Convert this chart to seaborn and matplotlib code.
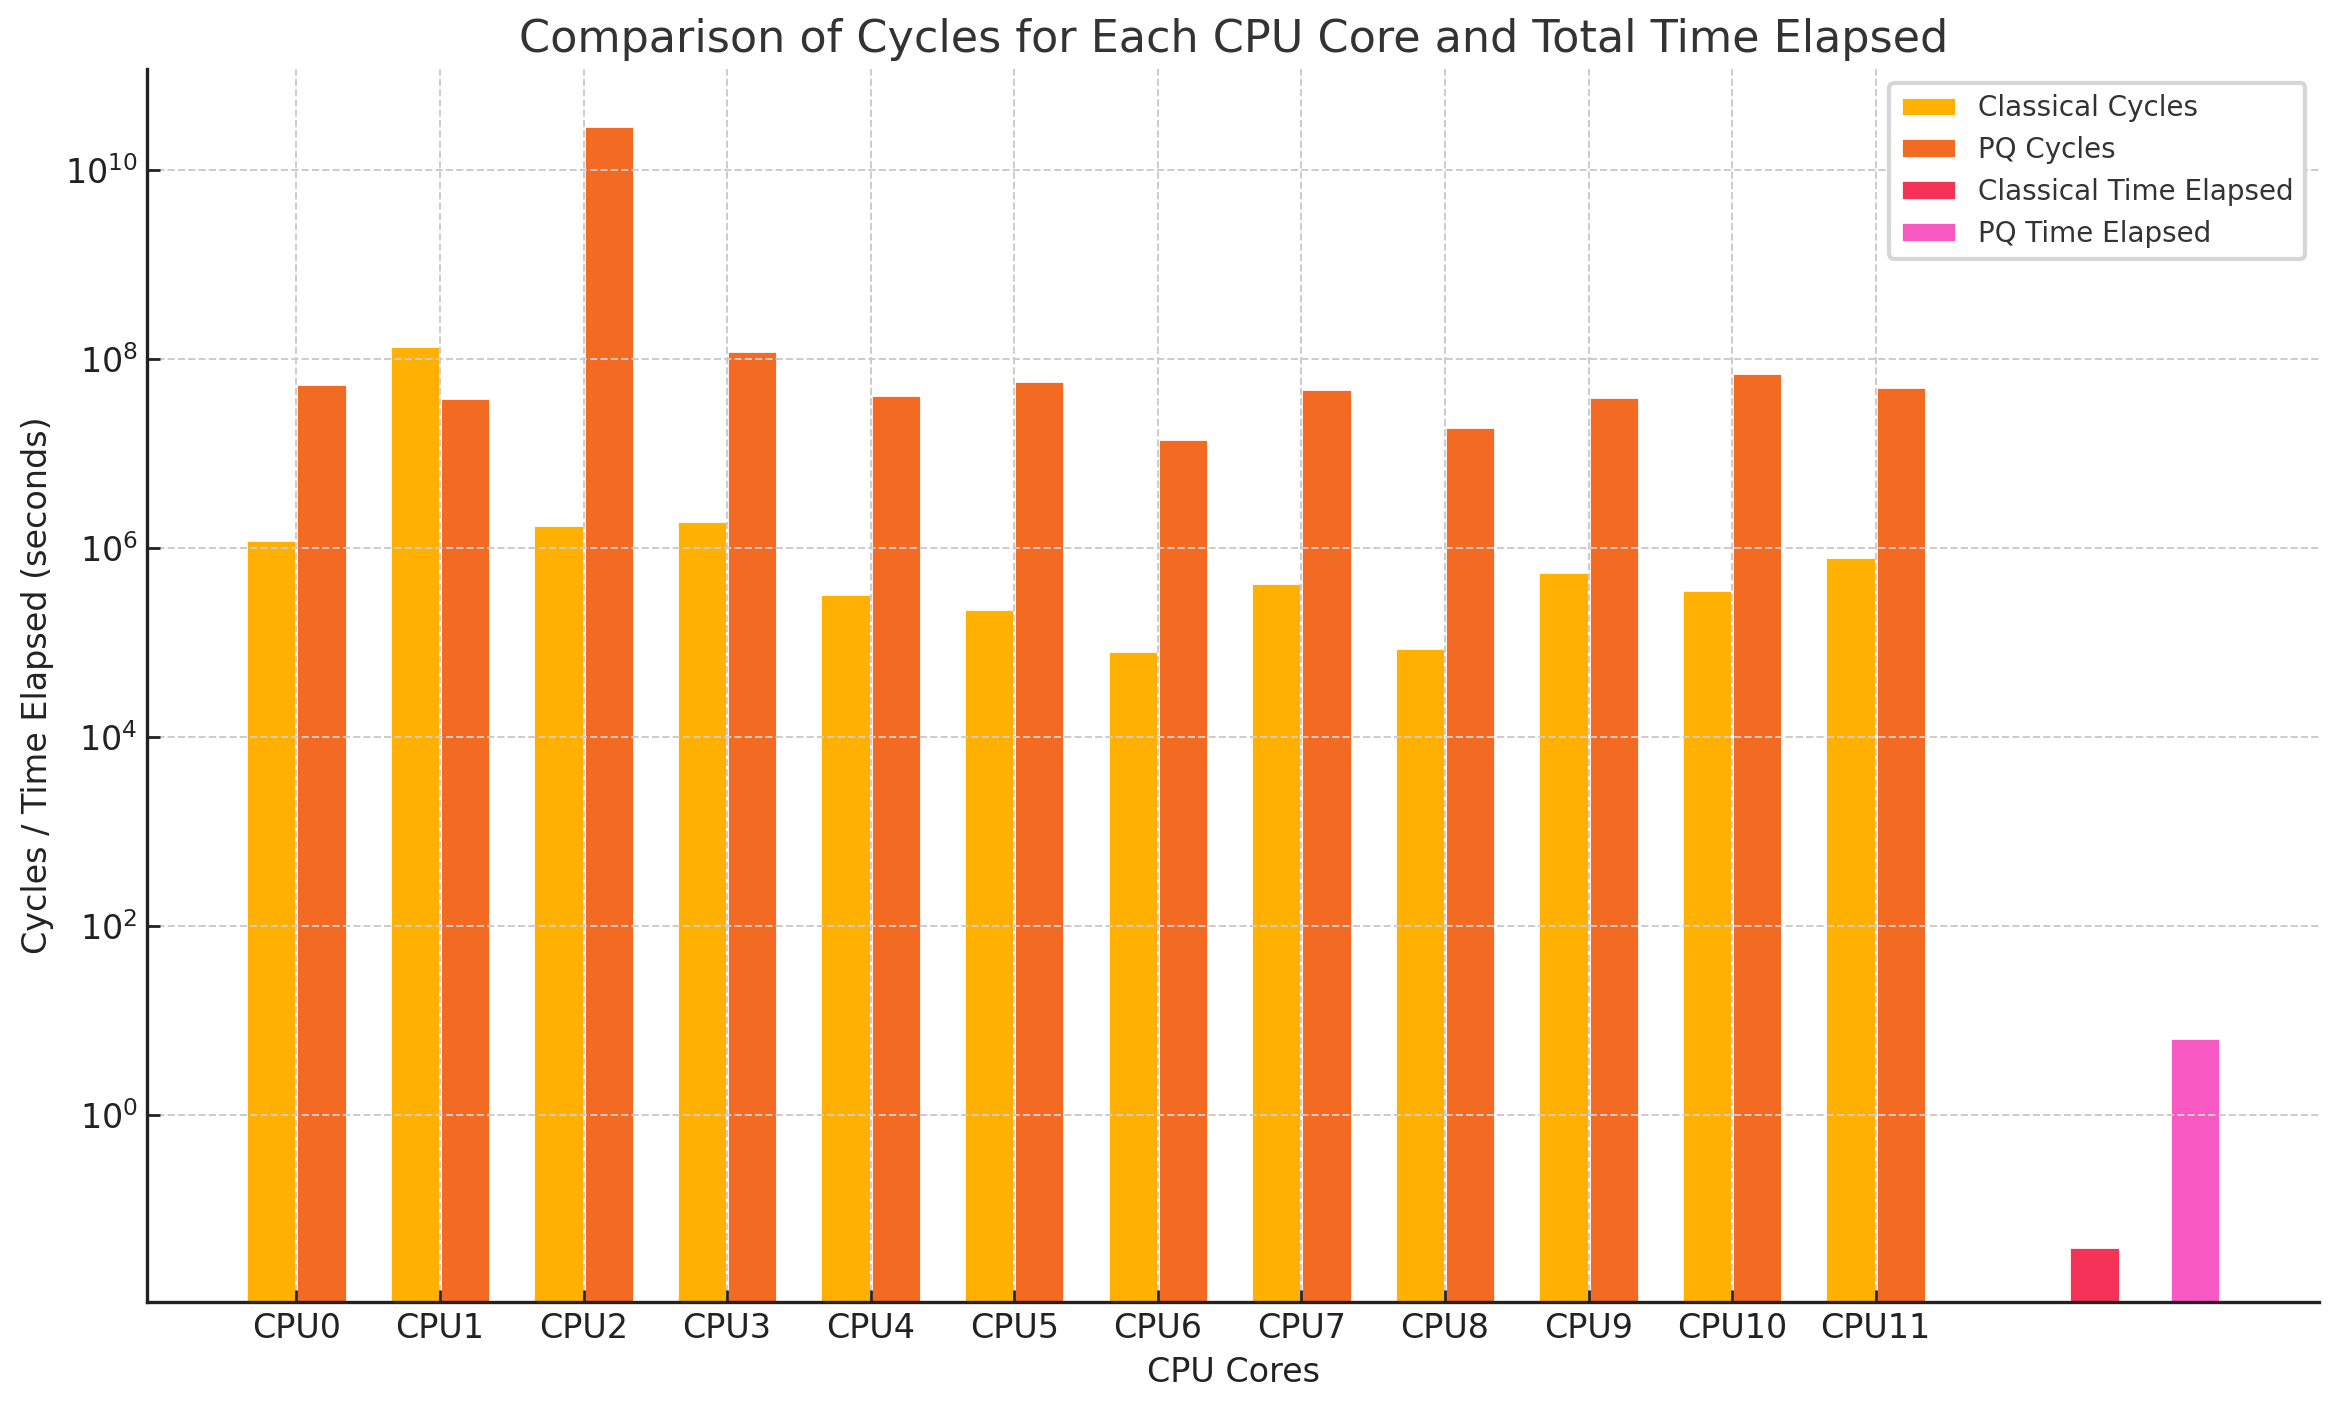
import numpy as np
import pandas as pd
import matplotlib.pyplot as plt
import seaborn as sns

# values
cores = ['CPU0', 'CPU1', 'CPU2', 'CPU3', 'CPU4', 'CPU5',
         'CPU6', 'CPU7', 'CPU8', 'CPU9', 'CPU10', 'CPU11']
classical_cycles = [1.21e6, 1.36e8, 1.74e6, 1.92e6, 3.24e5, 2.25e5,
                    8.1e4, 4.3e5, 8.7e4, 5.6e5, 3.6e5, 8.0e5]
pq_cycles = [5.5e7, 3.87e7, 2.92e10, 1.22e8, 4.16e7, 5.85e7,
             1.42e7, 4.82e7, 1.9e7, 3.96e7, 7.11e7, 5.06e7]
classical_time = [0.04]
pq_time = [6.5]

series_names = ['Classical Cycles', 'PQ Cycles', 'Classical Time Elapsed', 'PQ Time Elapsed']
colors = ['#FFB000', '#F36A23', '#F53258', '#F858C1']

width = 0.35
x = np.arange(len(cores))

# 设置全局样式
sns.set_style('ticks')
plt.rcParams.update({
    'font.family': ['DejaVu Sans'],
    'axes.axisbelow': 'line',
    'xtick.direction': 'in',
    'ytick.direction': 'in',
    'axes.spines.top': False,
    'axes.spines.right': False,
})

df = pd.concat([
    pd.DataFrame({'pos': x - width / 2, 'value': classical_cycles, 'series': series_names[0]}),
    pd.DataFrame({'pos': x + width / 2, 'value': pq_cycles, 'series': series_names[1]}),
    pd.DataFrame({'pos': [len(cores) + width * 1.5], 'value': classical_time, 'series': series_names[2]}),
    pd.DataFrame({'pos': [len(cores) + width * 3.5], 'value': pq_time, 'series': series_names[3]}),
], ignore_index=True)

fig, ax = plt.subplots(figsize=(11.68, 7.045), dpi=200)
ax.set_yscale('log')
sns.barplot(data=df, x='pos', y='value', hue='series', hue_order=series_names,
            palette=colors, native_scale=True, dodge=False, width=1.0,
            errorbar=None, saturation=1, ax=ax)

ax.set_xticks(x)
ax.set_xticklabels(cores, fontsize=12, color='#222222')
ax.tick_params(axis='y', labelsize=12, labelcolor='#222222')
ax.tick_params(axis='both', which='major', length=4.5, width=1, color='#222222')
ax.minorticks_off()
ax.set_xlim(-1.0375, 14.0875)
ax.set_ylim(10 ** -1.98, 10 ** 11.07)

ax.grid(True, linestyle='--', color='#cccccc', linewidth=0.7)
for side in ['left', 'bottom']:
    ax.spines[side].set_linewidth(1.2)
    ax.spines[side].set_color('#222222')

ax.set_xlabel('CPU Cores', fontsize=12, color='#222222')
ax.set_ylabel('Cycles / Time Elapsed (seconds)', fontsize=12, color='#222222')
ax.set_title('Comparison of Cycles for Each CPU Core and Total Time Elapsed',
             fontsize=16, color='#333333')

handles, labels = ax.get_legend_handles_labels()
leg = ax.legend(handles, labels, loc='upper right', fontsize=10, frameon=True,
                fancybox=True, framealpha=1, edgecolor='#d6d6d6',
                labelcolor='#333333')
leg.get_frame().set_linewidth(1.5)

fig.subplots_adjust(left=0.0631, right=0.9927, bottom=0.0759, top=0.951)
plt.savefig('out.png', dpi=200)
